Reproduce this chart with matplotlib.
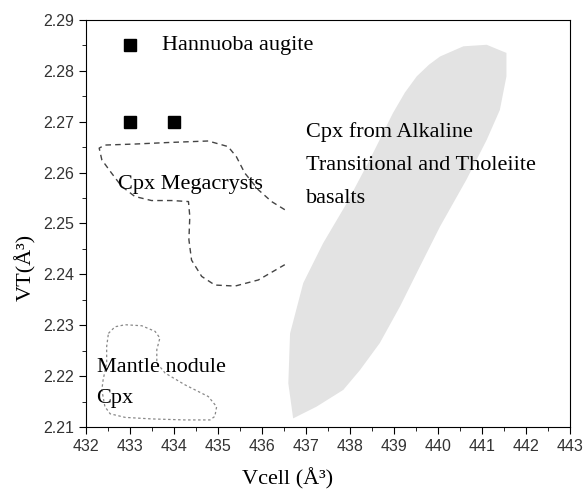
import matplotlib
matplotlib.use("Agg")
import matplotlib.pyplot as plt
from matplotlib.ticker import MultipleLocator

# Hannuoba augite points
aug_x = [433.0, 433.0, 434.0]
aug_y = [2.285, 2.270, 2.270]

# field of Cpx from alkaline / transitional / tholeiite basalts (outline)
basalt_x = [441.11, 441.56, 441.56, 441.41, 441.11, 440.65, 440.05, 439.59, 439.14,
            438.68, 438.23, 437.85, 437.24, 436.71, 436.60, 436.64, 436.94, 437.39,
            437.93, 438.45, 438.98, 439.25, 439.52, 439.80, 440.05, 440.58]
basalt_y = [2.2851, 2.2835, 2.2789, 2.2723, 2.2664, 2.2586, 2.2494, 2.2415, 2.2337,
            2.2265, 2.2212, 2.2173, 2.2140, 2.2117, 2.2186, 2.2284, 2.2383, 2.2461,
            2.2540, 2.2625, 2.2717, 2.2757, 2.2789, 2.2812, 2.2828, 2.2848]

# Cpx megacrysts (open dashed curve)
mega_x = [436.52, 436.22, 435.92, 435.61, 435.42, 435.23, 434.78, 433.87, 433.11,
          432.43, 432.30, 432.36, 432.58, 432.81, 433.11, 433.49, 433.95, 434.33,
          434.36, 434.34, 434.40, 434.63, 434.93, 435.39, 435.92, 436.52]
mega_y = [2.2527, 2.2543, 2.2566, 2.2599, 2.2631, 2.2651, 2.2662, 2.2659, 2.2656,
          2.2654, 2.2648, 2.2625, 2.2599, 2.2573, 2.2553, 2.2545, 2.2545, 2.2543,
          2.2514, 2.2468, 2.2428, 2.2396, 2.2379, 2.2377, 2.2389, 2.2419]

# mantle nodule Cpx (closed dotted curve)
mantle_x = [432.51, 432.66, 432.89, 433.27, 433.57, 433.68, 433.61, 433.61, 433.80,
            434.25, 434.78, 434.97, 434.93, 434.82, 434.25, 433.49, 432.89, 432.55,
            432.43, 432.36, 432.39, 432.47, 432.47, 432.51]
mantle_y = [2.2284, 2.2297, 2.2301, 2.2299, 2.2288, 2.2275, 2.2252, 2.2226, 2.2206,
            2.2183, 2.2160, 2.2140, 2.2121, 2.2114, 2.2114, 2.2116, 2.2119, 2.2126,
            2.2140, 2.2173, 2.2193, 2.2226, 2.2258, 2.2284]

serif = "Liberation Serif"
sans = "Liberation Sans"

fig = plt.figure(figsize=(5.85, 4.96), dpi=100)
ax = fig.add_axes([0.147, 0.139, 0.827, 0.821])

ax.fill(basalt_x, basalt_y, color="#e3e3e3", lw=0)
ax.plot(mega_x, mega_y, color="#444444", lw=1.0, dashes=(4, 3))
ax.plot(mantle_x, mantle_y, color="#888888", lw=0.9, dashes=(2, 2))
ax.plot(aug_x, aug_y, ls="none", marker="s", ms=8, color="black")

ax.text(433.73, 2.285, "Hannuoba augite", family=serif, fontsize=16, va="center")
ax.text(432.73, 2.2576, "Cpx Megacrysts", family=serif, fontsize=16, va="center")
ax.text(437.0, 2.2700, "Cpx from Alkaline\nTransitional and Tholeiite\nbasalts",
        family=serif, fontsize=16, va="top", linespacing=2.0)
ax.text(432.24, 2.2236, "Mantle nodule\nCpx", family=serif, fontsize=16,
        va="top", linespacing=1.9)

ax.set_xlim(432, 443)
ax.set_ylim(2.21, 2.29)
ax.xaxis.set_major_locator(MultipleLocator(1))
ax.xaxis.set_minor_locator(MultipleLocator(0.5))
ax.yaxis.set_major_locator(MultipleLocator(0.01))
ax.yaxis.set_minor_locator(MultipleLocator(0.005))
ax.tick_params(which="both", direction="out", top=False, right=False,
               labelsize=11.5, labelcolor="#333333")
ax.tick_params(which="major", length=5)
ax.tick_params(which="minor", length=3)
for lab in ax.get_xticklabels() + ax.get_yticklabels():
    lab.set_family(sans)

ax.set_xlabel("Vcell (Å³)", family=serif, fontsize=16)
ax.set_ylabel("VT(Å³)", family=serif, fontsize=16)
ax.xaxis.set_label_coords(0.417, -0.1)
ax.yaxis.set_label_coords(-0.102, 0.393)

fig.savefig("out.png", dpi=100)
